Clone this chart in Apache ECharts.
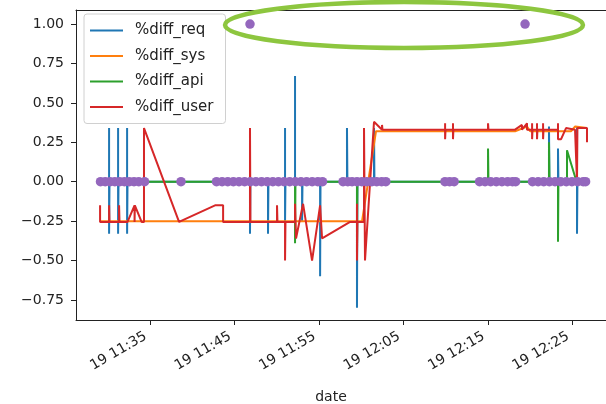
<!DOCTYPE html>
<html>
<head>
<meta charset="utf-8">
<script src="https://cdn.jsdelivr.net/npm/echarts@6/dist/echarts.min.js"></script>
<style>html,body{margin:0;padding:0;background:#fff}#c{width:606px;height:404px}</style>
</head>
<body>
<div id="c"></div>
<script>
// ---- data (date 19, times hh:mm:ss) ----
const xMin = "11:26:14";
const xMax = "12:28:59";
const xTickTimes = ["11:35:00","11:45:00","11:55:00","12:05:00","12:15:00","12:25:00"];
const xTickLabels = ["19 11:35","19 11:45","19 11:55","19 12:05","19 12:15","19 12:25"];
const yTicks = [-0.75,-0.5,-0.25,0,0.25,0.5,0.75,1.0];
const yMin = -0.877, yMax = 1.089;
const seriesNames = ["%diff_req","%diff_sys","%diff_api","%diff_user"];

const reqPoints = [
 ["11:29:05",0],
 ["11:30:09",0],["11:30:09",0.34],["11:30:09",-0.33],["11:30:12",0],
 ["11:31:13",0],["11:31:13",0.34],["11:31:13",-0.33],["11:31:16",0],
 ["11:32:17",0],["11:32:17",0.34],["11:32:17",-0.33],["11:32:20",0],
 ["11:46:50",0],["11:46:50",-0.33],["11:46:53",0],
 ["11:48:58",0],["11:48:58",-0.33],["11:49:01",0],
 ["11:50:59",0],["11:50:59",0.34],["11:50:59",-0.25],["11:51:02",0],
 ["11:52:10",0],["11:52:10",0.67],["11:52:10",-0.02],["11:52:13",0],
 ["11:53:00",0],["11:53:00",-0.25],["11:53:03",0],
 ["11:55:08",0],["11:55:08",-0.6],["11:55:11",0],
 ["11:58:19",0],["11:58:19",0.34],["11:58:22",0],
 ["11:59:30",0],["11:59:30",-0.8],["11:59:33",0],
 ["12:01:31",0],["12:01:31",0.34],["12:01:34",0],
 ["12:22:14",0],["12:22:14",0.35],["12:22:17",0],
 ["12:23:18",0],["12:23:18",0.21],["12:23:21",0],
 ["12:25:33",0],["12:25:33",0.35],["12:25:33",-0.33],["12:25:36",0],
 ["12:26:44",0]
];
const sysPoints = [
 ["11:29:05",-0.25],["12:00:06",-0.25],["12:01:45",0.32],["12:18:13",0.32],
 ["12:19:38",0.35],["12:20:00",0.32],["12:24:50",0.32],["12:25:20",0.35],["12:26:44",0.34]
];
const apiPoints = [
 ["11:29:05",0],
 ["11:52:10",0],["11:52:10",-0.39],["11:52:13",0],
 ["11:59:30",0],["11:59:30",-0.45],["11:59:33",0],
 ["12:15:01",0],["12:15:01",0.21],["12:15:04",0],
 ["12:22:14",0],["12:22:14",0.25],["12:22:17",0],
 ["12:23:18",0],["12:23:18",-0.38],["12:23:21",0],
 ["12:24:22",0],["12:24:22",0.2],["12:25:30",0],
 ["12:26:44",0]
];
const userPoints = [
 ["11:29:05",-0.15],["11:29:05",-0.255],
 ["11:30:09",-0.255],["11:30:09",-0.15],["11:30:12",-0.255],
 ["11:31:20",-0.255],["11:31:20",-0.15],["11:31:23",-0.255],
 ["11:32:20",-0.255],["11:33:10",-0.15],["11:33:10",-0.255],["11:33:12",-0.15],["11:34:00",-0.255],
 ["11:34:17",-0.255],["11:34:17",0.34],["11:34:30",0.34],["11:38:26",-0.255],
 ["11:42:42",-0.15],["11:43:39",-0.15],["11:43:39",-0.255],
 ["11:46:50",-0.255],["11:46:50",0.34],["11:46:53",-0.255],
 ["11:50:02",-0.255],["11:50:02",-0.15],["11:50:05",-0.255],
 ["11:50:59",-0.255],["11:50:59",-0.5],["11:51:02",-0.255],
 ["11:52:10",-0.255],["11:52:10",-0.14],["11:52:17",-0.36],["11:53:07",-0.14],
 ["11:54:11",-0.5],["11:55:08",-0.15],["11:55:22",-0.36],["11:58:41",-0.255],
 ["11:59:30",-0.255],["11:59:30",-0.14],["11:59:30",-0.5],["11:59:33",-0.255],
 ["12:00:20",-0.255],["12:00:20",0.34],["12:00:27",-0.5],["12:01:31",0.38],
 ["12:02:28",0.33],["12:02:28",0.36],["12:02:31",0.33],
 ["12:09:56",0.33],["12:09:56",0.37],["12:09:56",0.27],["12:09:59",0.33],
 ["12:10:52",0.33],["12:10:52",0.37],["12:10:52",0.27],["12:10:55",0.33],
 ["12:15:01",0.33],["12:15:01",0.37],["12:15:04",0.33],
 ["12:18:13",0.33],["12:19:02",0.36],["12:19:02",0.33],["12:19:38",0.37],["12:19:38",0.33],
 ["12:20:14",0.33],["12:20:14",0.37],["12:20:14",0.27],["12:20:17",0.33],
 ["12:20:49",0.33],["12:20:49",0.37],["12:20:49",0.27],["12:20:52",0.33],
 ["12:21:32",0.33],["12:21:32",0.37],["12:21:32",0.27],["12:21:35",0.33],
 ["12:23:18",0.33],["12:23:18",0.37],["12:23:18",0.27],["12:23:40",0.27],["12:24:15",0.34],
 ["12:25:19",0.33],["12:25:33",0.34],["12:25:33",0],["12:25:36",0.34],
 ["12:26:44",0.34],["12:26:44",0.25]
];
const dotZeroTimes = [
 "11:29:08","11:29:42","11:30:16","11:30:50","11:31:24","11:31:58","11:32:32","11:33:06","11:33:40","11:34:21",
 "11:38:40",
 "11:42:52","11:43:32","11:44:12","11:44:52","11:45:32","11:46:12","11:46:52","11:47:32","11:48:12","11:48:52",
 "11:49:32","11:50:12","11:50:52","11:51:32","11:52:12","11:52:52","11:53:32","11:54:12","11:54:52","11:55:25",
 "11:57:51","11:58:25","11:58:55","11:59:30","12:00:05","12:00:40","12:01:15","12:01:50","12:02:25","12:02:55",
 "12:09:55","12:10:28","12:11:00",
 "12:14:01","12:14:40","12:15:20","12:16:00","12:16:40","12:17:20","12:17:55","12:18:17",
 "12:20:17","12:20:57","12:21:37","12:22:17","12:22:57","12:23:37","12:24:17","12:24:57","12:25:37","12:26:17","12:26:34"
];
const dotOneTimes = ["11:46:50","12:19:24"];

// ---- build ----
function ts(s){const p=s.split(':').map(Number);return new Date(2019,3,19,p[0],p[1],p[2]||0).getTime();}
const toData = pts => pts.map(p => [ts(p[0]), p[1]]);
const xTickValues = xTickTimes.map(ts);
const font = 'DejaVu Sans';
const ink = '#222';
const colors = ['#1f77b4','#ff7f0e','#2ca02c','#d62728'];
const pointSets = [reqPoints, sysPoints, apiPoints, userPoints];

const lineSeries = seriesNames.map((n,i) => ({
  name: n, type: 'line', data: toData(pointSets[i]), symbol: 'none', showSymbol: false,
  lineStyle: {color: colors[i], width: 2}, itemStyle: {color: colors[i]}, z: 2 + i * 0.1,
  emphasis: {disabled: true}
}));
const dotData = dotZeroTimes.map(t => [ts(t), 0]).concat(dotOneTimes.map(t => [ts(t), 1.0]));

const chart = echarts.init(document.getElementById('c'), null, {renderer: 'canvas'});
chart.setOption({
  animation: false,
  backgroundColor: '#fff',
  grid: {left: 76, top: 10, right: 0, bottom: 84, containLabel: false, outerBoundsMode: 'none'},
  legend: {
    data: seriesNames.map((n, i) => ({name: n, icon: 'rect', itemStyle: {color: colors[i]}})),
    orient: 'vertical', left: 84, top: 14,
    itemWidth: 33, itemHeight: 2.2, itemGap: 8.5,
    padding: [8, 12, 8, 6],
    borderColor: '#d0d0d0', borderWidth: 1, borderRadius: 3,
    backgroundColor: 'rgba(255,255,255,0.85)',
    textStyle: {fontFamily: font, fontSize: 15, lineHeight: 17, color: ink, padding: [0, 0, 0, 7]}
  },
  xAxis: [{
    type: 'value', min: ts(xMin), max: ts(xMax), scale: true,
    axisLine: {show: true, onZero: false, lineStyle: {color: ink, width: 1}},
    axisTick: {show: true, length: 5, inside: false, customValues: xTickValues, lineStyle: {color: ink, width: 1}},
    axisLabel: {
      customValues: xTickValues, rotate: 30, margin: 13, padding: [0, 5, 0, 0],
      fontFamily: font, fontSize: 14, color: ink, hideOverlap: false,
      formatter: v => { const i = xTickValues.indexOf(v); return i >= 0 ? xTickLabels[i] : ''; }
    },
    splitLine: {show: false}, minorTick: {show: false},
    name: 'date', nameLocation: 'middle', nameGap: 70,
    nameTextStyle: {fontFamily: font, fontSize: 14, color: ink, padding: [0, 20, 0, 0]}
  }, {
    type: 'value', position: 'top', min: ts(xMin), max: ts(xMax), scale: true,
    axisLine: {show: true, onZero: false, lineStyle: {color: ink, width: 1}},
    axisTick: {show: false}, axisLabel: {show: false}, splitLine: {show: false}
  }],
  yAxis: {
    type: 'value', min: yMin, max: yMax,
    axisLine: {show: true, onZero: false, lineStyle: {color: ink, width: 1}},
    axisTick: {show: true, length: 5, inside: false, customValues: yTicks, lineStyle: {color: ink, width: 1}},
    axisLabel: {
      customValues: yTicks, margin: 12, fontFamily: font, fontSize: 14, color: ink,
      formatter: v => (v < 0 ? '\u2212' : '') + Math.abs(v).toFixed(2)
    },
    splitLine: {show: false}
  },
  series: lineSeries.concat([{
    name: 'points', type: 'scatter', data: dotData, symbol: 'circle', symbolSize: 9.5,
    itemStyle: {color: '#9467bd', opacity: 1}, z: 5, emphasis: {disabled: true}
  }]),
  graphic: [{
    type: 'ellipse', z: 100, silent: true,
    shape: {cx: 404, cy: 25, rx: 179, ry: 23},
    style: {fill: 'transparent', stroke: '#8dc63f', lineWidth: 4.5}
  }]
});
</script>
</body>
</html>
